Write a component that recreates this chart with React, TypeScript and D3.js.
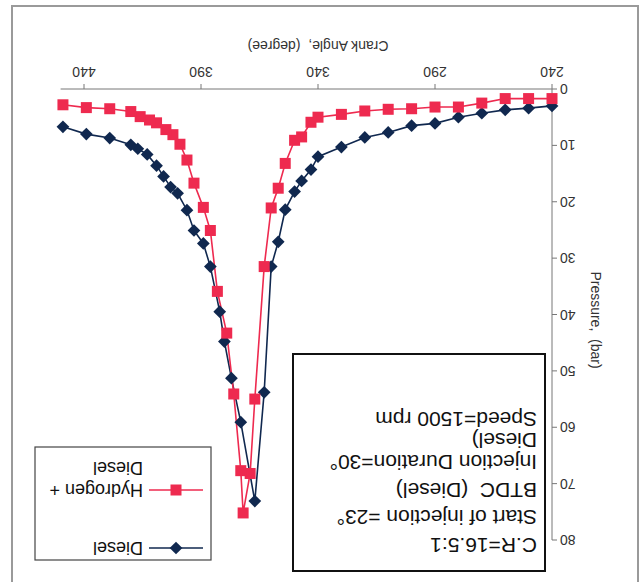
import React from 'react';
import * as d3 from 'd3';

const crankH2 = [240, 250, 260, 270, 280, 290, 300, 310, 320, 330, 340, 343, 347, 350, 354, 357, 360, 363, 367, 369, 372, 373, 376, 379, 383, 386, 389, 393, 396, 399, 402, 405, 409, 412, 416, 420, 429, 439, 449];
const pressureH2 = [1.7, 1.7, 1.7, 2.5, 3.2, 3.2, 3.5, 3.6, 3.9, 4.5, 5.0, 5.9, 8.5, 9.1, 13.2, 17.6, 21.1, 31.5, 55.0, 68.2, 75.2, 67.7, 54.1, 43.3, 35.9, 25.1, 21.0, 16.7, 12.6, 9.8, 8.1, 7.2, 6.0, 5.5, 4.9, 4.0, 3.5, 3.3, 2.8];

const crankDiesel = [240, 250, 260, 270, 280, 290, 300, 310, 320, 330, 340, 343, 347, 350, 354, 357, 360, 363, 367, 373, 377, 380, 382, 386, 389, 393, 396, 400, 403, 406, 409, 413, 417, 420, 429, 439, 449];
const pressureDiesel = [3.0, 3.4, 3.7, 4.3, 5.0, 6.1, 6.5, 7.7, 8.6, 10.3, 12.0, 14.3, 16.3, 18.2, 21.4, 27.1, 31.5, 53.8, 73.1, 59.1, 51.3, 44.8, 39.5, 31.5, 27.4, 25.1, 21.5, 18.5, 17.4, 15.5, 13.6, 11.6, 10.6, 9.9, 8.7, 8.0, 6.7];

const xTicks = [240, 290, 340, 390, 440];
const yTicks = [0, 10, 20, 30, 40, 50, 60, 70, 80];

const noteLines = ['C.R=16.5:1', 'Start of injection =23°', 'BTDC  (Diesel)', 'Injection Duration=30°', 'Diesel)', 'Speed=1500 rpm'];
const noteY = [37, 65, 92, 120, 142, 163];

const W = 643;
const H = 582;
const RED = '#ee2a4f';
const NAVY = '#10284f';
const FONT = 'Liberation Sans, Arial, sans-serif';

const Square = ({ cx, cy }: { cx: number; cy: number }) => (
  <rect x={cx - 5.5} y={cy - 5.5} width={11} height={11} fill={RED} />
);
const Diamond = ({ cx, cy }: { cx: number; cy: number }) => (
  <rect x={cx - 4.5} y={cy - 4.5} width={9} height={9} fill={NAVY} transform={`rotate(45 ${cx} ${cy})`} />
);

export default function App() {
  const x = d3.scaleLinear().domain([240, 450]).range([91, 582.4]);
  const y = d3.scaleLinear().domain([0, 80]).range([493, 42]);
  const line = d3.line<number[]>().x(d => x(d[0])).y(d => y(d[1]));

  const h2 = crankH2.map((c, i) => [c, pressureH2[i]]);
  const diesel = crankDiesel.map((c, i) => [c, pressureDiesel[i]]);

  return (
    <svg width={W} height={H} style={{ position: 'absolute', left: 0, top: 0, background: '#fff' }} fontFamily={FONT}>
      {/* the source figure is printed upside down, so the whole chart is turned */}
      <g transform={`rotate(180 ${W / 2} ${H / 2})`}>
        <rect x={5} y={-20} width={626} height={596} fill="#fff" stroke="#9a9a9a" strokeWidth={2} />

        {/* axes */}
        <line x1={x(240)} x2={x(450)} y1={y(0)} y2={y(0)} stroke="#777" />
        <line x1={x(240)} x2={x(240)} y1={y(0)} y2={y(80)} stroke="#777" />
        {xTicks.map(t => (
          <g key={'x' + t}>
            <line x1={x(t)} x2={x(t)} y1={y(0)} y2={y(0) + 5} stroke="#777" />
            <text x={x(t)} y={y(0) + 17} fontSize={14} textAnchor="middle" dominantBaseline="central" fill="#333">{t}</text>
          </g>
        ))}
        {yTicks.map(t => (
          <g key={'y' + t}>
            <line x1={x(240) - 5} x2={x(240)} y1={y(t)} y2={y(t)} stroke="#777" />
            <text x={x(240) - 8} y={y(t)} fontSize={14} textAnchor="end" dominantBaseline="central" fill="#333">{t}</text>
          </g>
        ))}
        <text x={325} y={536} fontSize={14} textAnchor="middle" dominantBaseline="central" fill="#333" style={{ whiteSpace: 'pre' }}>Crank Angle,  (degree)</text>
        <text transform="translate(47 262) rotate(-90)" fontSize={14} textAnchor="middle" dominantBaseline="central" fill="#333" style={{ whiteSpace: 'pre' }}>Pressure,  (bar)</text>

        {/* series */}
        <path d={line(diesel) ?? ''} fill="none" stroke={NAVY} strokeWidth={1.6} />
        <path d={line(h2) ?? ''} fill="none" stroke={RED} strokeWidth={1.6} />
        {diesel.map((d, i) => <Diamond key={'d' + i} cx={x(d[0])} cy={y(d[1])} />)}
        {h2.map((d, i) => <Square key={'h' + i} cx={x(d[0])} cy={y(d[1])} />)}

        {/* note box */}
        <rect x={98} y={11} width={252} height={217} fill="#fff" stroke="#111" strokeWidth={2} />
        {noteLines.map((s, i) => (
          <text key={'n' + i} x={106} y={noteY[i]} fontSize={21} dominantBaseline="central" fill="#111" style={{ whiteSpace: 'pre' }}>{s}</text>
        ))}

        {/* legend */}
        <rect x={432} y={22} width={176} height={113} fill="#fff" stroke="#444" strokeWidth={1.2} />
        <line x1={440} x2={494} y1={34} y2={34} stroke={NAVY} strokeWidth={1.6} />
        <Diamond cx={467} cy={34} />
        <text x={500} y={34} fontSize={18} dominantBaseline="central" fill="#111">Diesel</text>
        <line x1={440} x2={494} y1={92} y2={92} stroke={RED} strokeWidth={1.6} />
        <Square cx={467} cy={92} />
        <text x={500} y={92} fontSize={18} dominantBaseline="central" fill="#111">Hydrogen +</text>
        <text x={500} y={114} fontSize={18} dominantBaseline="central" fill="#111">Diesel</text>
      </g>
    </svg>
  );
}
